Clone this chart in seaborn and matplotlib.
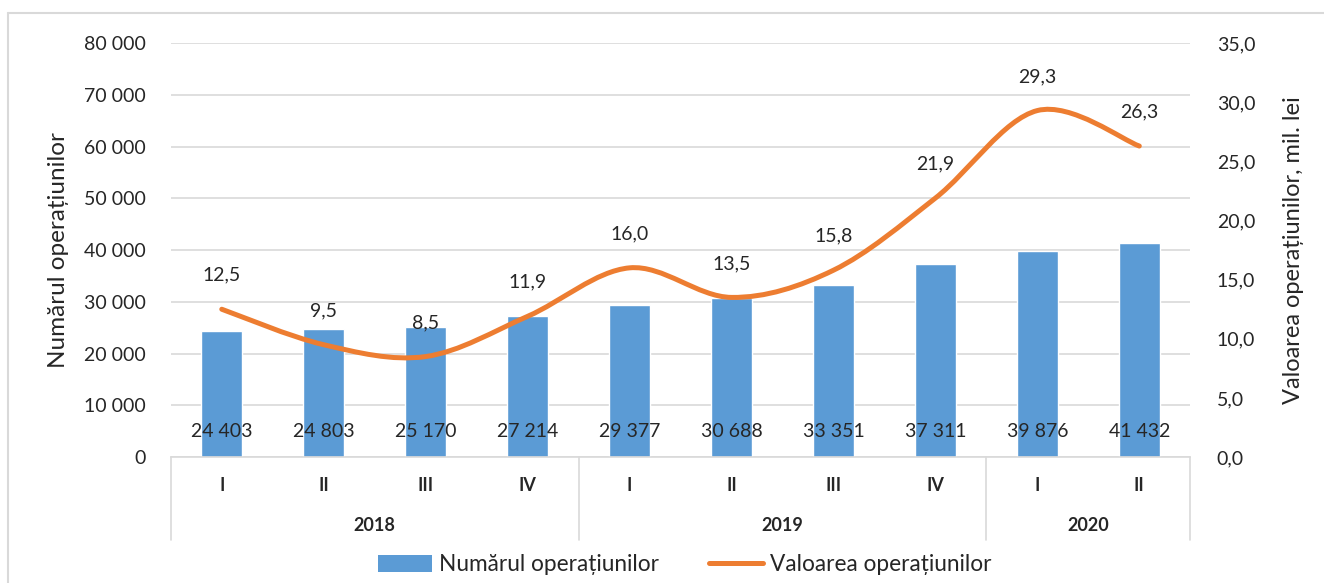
import matplotlib
matplotlib.use("Agg")
import matplotlib.pyplot as plt
import seaborn as sns
import pandas as pd
from matplotlib.lines import Line2D
from matplotlib.patches import Patch, PathPatch
from matplotlib.path import Path
from matplotlib.ticker import FuncFormatter, MultipleLocator
import matplotlib.transforms as mtransforms

years = ["2018", "2018", "2018", "2018", "2019", "2019", "2019", "2019", "2020", "2020"]
quarters = ["I", "II", "III", "IV", "I", "II", "III", "IV", "I", "II"]
nr_operatiuni = [24403, 24803, 25170, 27214, 29377, 30688, 33351, 37311, 39876, 41432]
valoare_operatiuni = [12.5, 9.5, 8.5, 11.9, 16.0, 13.5, 15.8, 21.9, 29.3, 26.3]

BLUE = "#5B9BD5"
ORANGE = "#ED7D31"
GRID = "#D9D9D9"

sns.set_style("white")
plt.rcParams["font.family"] = ["Lato", "DejaVu Sans"]

df = pd.DataFrame({
    "cheie": [f"{y}-{q}" for y, q in zip(years, quarters)],
    "nr": nr_operatiuni,
    "val": valoare_operatiuni,
})

fig = plt.figure(figsize=(13.24, 5.83), dpi=100)
ax = fig.add_axes([0.129, 0.216, 0.770, 0.710])

sns.barplot(data=df, x="cheie", y="nr", color=BLUE, saturation=1, width=0.4, ax=ax, zorder=2)
ax.set_xlim(-0.5, len(df) - 0.5)
ax.set_ylim(0, 80000)
ax.yaxis.set_major_locator(MultipleLocator(10000))
ax.yaxis.set_major_formatter(FuncFormatter(lambda v, p: f"{v:,.0f}".replace(",", " ")))
ax.grid(axis="y", color=GRID, linewidth=1.2, zorder=0)
ax.set_axisbelow(True)
for s in ["top", "right", "left"]:
    ax.spines[s].set_visible(False)
ax.spines["bottom"].set_color(GRID)
ax.spines["bottom"].set_linewidth(1.2)
ax.tick_params(axis="y", length=0, labelsize=14, pad=18)
ax.tick_params(axis="x", length=0, labelbottom=False)
ax.set_xlabel("")
ax.set_ylabel("Numărul operațiunilor", fontsize=17.5, labelpad=11)

# bar value labels near the base
for i, v in enumerate(df["nr"]):
    ax.annotate(f"{v:,.0f}".replace(",", " "), (i, 0), xytext=(0, 26),
                textcoords="offset pixels", ha="center", va="center", fontsize=14, zorder=4)

# secondary axis with smoothed line
ax2 = ax.twinx()
ax2.set_ylim(0, 35)
ax2.yaxis.set_major_locator(MultipleLocator(5))
ax2.yaxis.set_major_formatter(FuncFormatter(lambda v, p: f"{v:.1f}".replace(".", ",")))
for s in ax2.spines.values():
    s.set_visible(False)
ax2.tick_params(axis="y", length=0, labelsize=14, pad=19)
ax2.set_ylabel("Valoarea operațiunilor, mil. lei", fontsize=17, labelpad=20)

xs = list(range(len(df)))
ys = list(df["val"])
verts = [(xs[0], ys[0])]
codes = [Path.MOVETO]
n = len(xs)
for i in range(n - 1):
    p0 = (xs[max(i - 1, 0)], ys[max(i - 1, 0)])
    p1 = (xs[i], ys[i])
    p2 = (xs[i + 1], ys[i + 1])
    p3 = (xs[min(i + 2, n - 1)], ys[min(i + 2, n - 1)])
    c1 = (p1[0] + (p2[0] - p0[0]) / 6, p1[1] + (p2[1] - p0[1]) / 6)
    c2 = (p2[0] - (p3[0] - p1[0]) / 6, p2[1] - (p3[1] - p1[1]) / 6)
    verts += [c1, c2, p2]
    codes += [Path.CURVE4] * 3
ax2.add_patch(PathPatch(Path(verts, codes), facecolor="none", edgecolor=ORANGE,
                        linewidth=3.6, capstyle="round", joinstyle="round", zorder=3))

for i, v in enumerate(ys):
    ax2.annotate(f"{v:.1f}".replace(".", ","), (i, v), xytext=(0, 34),
                 textcoords="offset pixels", ha="center", va="center", fontsize=14)

# two-level category axis
trans = mtransforms.blended_transform_factory(ax.transData, ax.transAxes)
for i, q in enumerate(quarters):
    ax.text(i, -0.068, q, transform=trans, ha="center", va="center",
            fontsize=13, fontweight="bold")
groups = {}
for i, y in enumerate(years):
    groups.setdefault(y, []).append(i)
for y, idx in groups.items():
    ax.text((idx[0] + idx[-1]) / 2, -0.166, y, transform=trans, ha="center", va="center",
            fontsize=13, fontweight="bold")
bounds = [-0.5] + [idx[-1] + 0.5 for idx in groups.values()]
for b in bounds:
    ax.add_line(Line2D([b, b], [0, -0.2], transform=trans, color=GRID, linewidth=1.2, clip_on=False))

handles = [Patch(facecolor=BLUE, edgecolor="none", label="Numărul operațiunilor"),
           Line2D([], [], color=ORANGE, linewidth=3.6, label="Valoarea operațiunilor")]
fig.legend(handles=handles, loc="center", bbox_to_anchor=(0.517, 0.031), ncol=2, frameon=False,
           fontsize=16.3, handlelength=2.4, handleheight=0.8, columnspacing=2.2, handletextpad=0.3)

# chart border (left and top visible)
fig.add_artist(Line2D([0.006, 0.006], [0, 0.978], transform=fig.transFigure, color=GRID, linewidth=1.5))
fig.add_artist(Line2D([0.006, 1], [0.978, 0.978], transform=fig.transFigure, color=GRID, linewidth=1.5))

fig.savefig("out.png", dpi=100)
